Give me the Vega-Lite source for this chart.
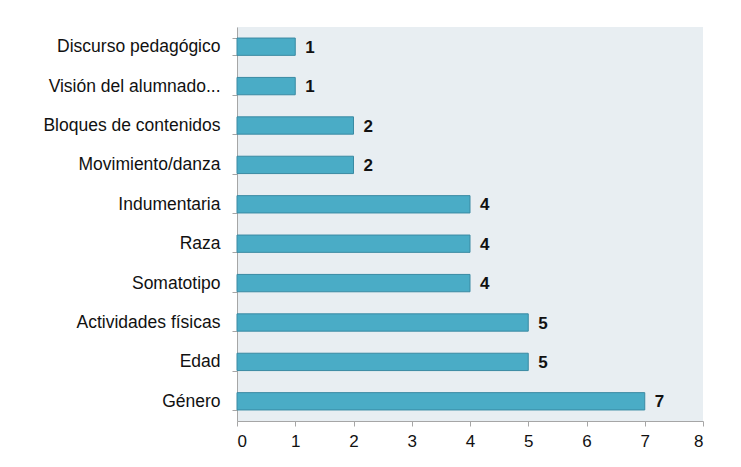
{
  "$schema": "https://vega.github.io/schema/vega-lite/v6.json",
  "autosize": "none",
  "width": 466,
  "height": 394,
  "padding": {"left": 237, "top": 27, "right": 38, "bottom": 46},
  "background": "white",
  "config": {
    "view": {"fill": "#e8eef2", "stroke": null},
    "font": "Liberation Sans"
  },
  "data": {
    "values": [
      {"categoria": "Discurso pedagógico", "n": 1},
      {"categoria": "Visión del alumnado...", "n": 1},
      {"categoria": "Bloques de contenidos", "n": 2},
      {"categoria": "Movimiento/danza", "n": 2},
      {"categoria": "Indumentaria", "n": 4},
      {"categoria": "Raza", "n": 4},
      {"categoria": "Somatotipo", "n": 4},
      {"categoria": "Actividades físicas", "n": 5},
      {"categoria": "Edad", "n": 5},
      {"categoria": "Género", "n": 7}
    ]
  },
  "encoding": {
    "y": {
      "field": "categoria",
      "type": "nominal",
      "sort": null,
      "scale": {"paddingInner": 0.56, "paddingOuter": 0.28},
      "axis": {
        "title": null,
        "domainColor": "#a6a6a6",
        "tickColor": "#a6a6a6",
        "tickSize": 5,
        "tickBand": "extent",
        "labelFont": "Liberation Sans",
        "labelFontSize": 17.5,
        "labelColor": "#111111",
        "labelPadding": 12,
        "labelLimit": 300
      }
    },
    "x": {
      "field": "n",
      "type": "quantitative",
      "scale": {"domain": [0, 8], "nice": false},
      "axis": {
        "title": null,
        "values": [0, 1, 2, 3, 4, 5, 6, 7, 8],
        "grid": false,
        "domainColor": "#a6a6a6",
        "tickColor": "#a6a6a6",
        "tickSize": 5,
        "labelFont": "Liberation Sans",
        "labelFontSize": 17,
        "labelColor": "#111111",
        "labelPadding": 7
      }
    }
  },
  "layer": [
    {
      "mark": {"type": "bar", "fill": "#4aacc6", "stroke": "#3a8aa3", "strokeWidth": 1}
    },
    {
      "mark": {"type": "text", "align": "left", "baseline": "middle", "dx": 10, "dy": 1, "font": "Liberation Sans", "fontSize": 17, "fontWeight": "bold", "color": "#111111"},
      "encoding": {"text": {"field": "n", "type": "quantitative"}}
    }
  ]
}
